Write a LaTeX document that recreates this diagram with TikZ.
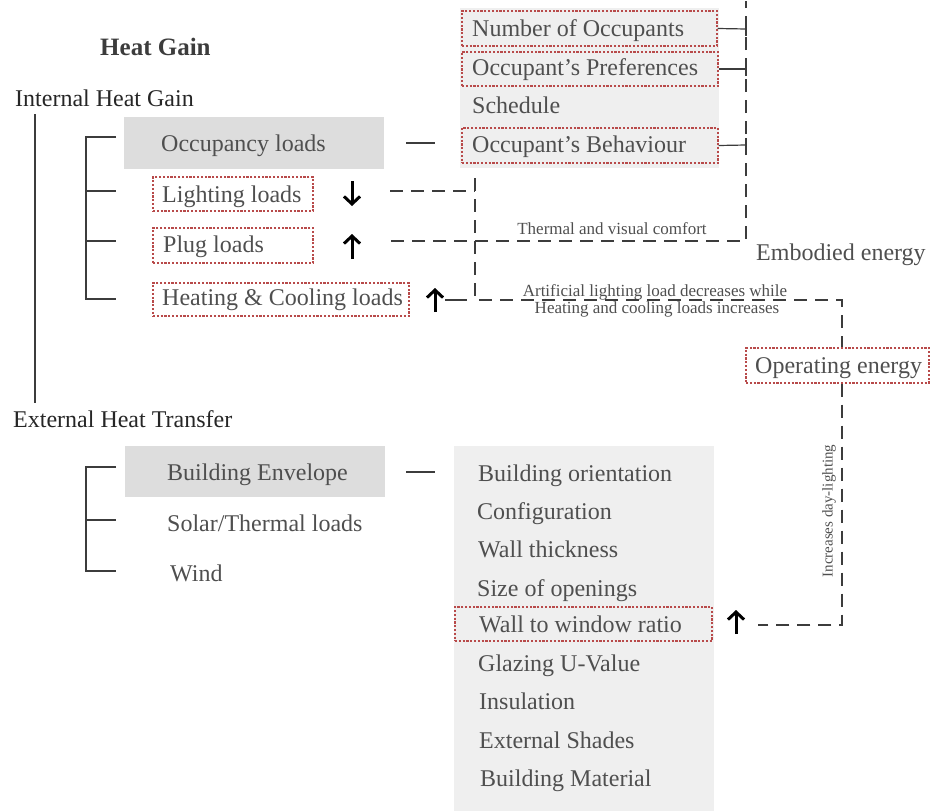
\documentclass[tikz,border=0pt]{standalone}
\usepackage{fontspec}
\setmainfont{Liberation Serif}
\usetikzlibrary{arrows.meta,fit}
\definecolor{txtdark}{HTML}{262626}
\definecolor{txtgray}{HTML}{4F4F4F}
\definecolor{boxred}{HTML}{B84A4A}
\definecolor{linegray}{HTML}{3C3C3C}
\definecolor{fillmid}{HTML}{DDDDDD}
\definecolor{filllight}{HTML}{EFEFEF}
\begin{document}
\begin{tikzpicture}[x=1pt,y=-1pt,
  lbl/.style={font=\fontsize{24}{28}\selectfont, text=txtgray, inner sep=0pt, anchor=base west},
  head/.style={font=\fontsize{24}{28}\selectfont, text=txtdark, inner sep=0pt, anchor=base west},
  small/.style={font=\fontsize{17}{19}\selectfont, text=txtgray, inner sep=0pt, anchor=base},
  redbox/.style={draw=boxred, dash pattern=on 2.2pt off 1.6pt, line width=1.3pt, inner sep=0pt},
  graybox/.style={fill=#1, draw=none, inner sep=0pt},
  dashc/.style={draw=linegray, line width=1.3pt, dash pattern=on 13pt off 8pt},
  solidc/.style={draw=linegray, line width=1.2pt},
  updown/.style={draw=black, line width=3pt, -{Straight Barb[length=7.5pt,width=16pt,line width=3pt]}}
]
\useasboundingbox (0,0) rectangle (930,811);

% ---------- background boxes ----------
\node[graybox=fillmid, fit={(124,117) (384,169)}] (occbox) {};
\node[graybox=filllight, fit={(460,8) (719,168)}] (occfactors) {};
\node[graybox=fillmid, fit={(125,446) (385,497)}] (envbox) {};
\node[graybox=filllight, fit={(454,446) (714,811)}] (envfactors) {};

% ---------- headings ----------
\node[font=\bfseries\fontsize{25}{28}\selectfont, text=txtdark!90, inner sep=0pt, anchor=base west] (hg) at (100,55) {Heat Gain};
\node[head] (ihg) at (15,106) {Internal Heat Gain};
\node[head] (eht) at (13,427) {External Heat Transfer};

% ---------- internal heat gain ----------
\node[lbl] (occ) at (161,151) {Occupancy loads};
\node[redbox, fit={(153,177) (313,211)}] (lightbox) {};
\node[lbl] (light) at (162,202) {Lighting loads};
\node[redbox, fit={(153,228) (313,263)}] (plugbox) {};
\node[lbl] (plug) at (163,252.5) {Plug loads};
\node[redbox, fit={(153,283) (409,316)}] (heatbox) {};
\node[lbl] (heat) at (162,305.5) {Heating \& Cooling loads};

% occupant factors
\node[redbox, fit={(462,11) (717,46)}] (nobox) {};
\node[lbl] (noocc) at (472,36) {Number of Occupants};
\node[redbox, fit={(462,52) (718,86)}] (prefbox) {};
\node[lbl] (pref) at (472,75) {Occupant’s Preferences};
\node[lbl] (sched) at (472,113) {Schedule};
\node[redbox, fit={(462,128) (718,163)}] (behbox) {};
\node[lbl] (beh) at (472,152) {Occupant’s Behaviour};

% ---------- external heat transfer ----------
\node[lbl] (env) at (167,480) {Building Envelope};
\node[lbl] (solar) at (167,531) {Solar/Thermal loads};
\node[lbl] (wind) at (170,581) {Wind};

\node[lbl] (e1) at (478,481) {Building orientation};
\node[lbl] (e2) at (477,519) {Configuration};
\node[lbl] (e3) at (478,557) {Wall thickness};
\node[lbl] (e4) at (477,596) {Size of openings};
\node[redbox, fit={(455,607) (712,641)}] (wwrbox) {};
\node[lbl] (e5) at (479,632) {Wall to window ratio};
\node[lbl] (e6) at (478,671) {Glazing U-Value};
\node[lbl] (e7) at (479,709) {Insulation};
\node[lbl] (e8) at (479,748) {External Shades};
\node[lbl] (e9) at (480,786) {Building Material};

% ---------- energy labels ----------
\node[lbl] (emb) at (756,260) {Embodied energy};
\node[redbox, fit={(746,348) (929,383)}] (opbox) {};
\node[lbl] (op) at (755,373) {Operating energy};

\node[small] (tvc) at (612,234) {Thermal and visual comfort};
\node[small] (alt1) at (655,296) {Artificial lighting load decreases while};
\node[small] (alt2) at (657,313) {Heating and cooling loads increases};
\node[font=\fontsize{15}{17}\selectfont, text=txtgray, inner sep=0pt, rotate=90] (idl) at (829,511) {Increases day-lighting};

% ---------- tree brackets ----------
\draw[solidc] (35,114) -- (35,403);
\draw[solidc] (116,137) -- (86,137) -- (86,299) -- (116,299);
\draw[solidc] (86,191) -- (116,191);
\draw[solidc] (86,241) -- (116,241);
\draw[solidc] (116,467) -- (86,467) -- (86,571) -- (116,571);
\draw[solidc] (86,520) -- (116,520);

\draw[solidc] (406,143) -- (435,143);
\draw[solidc] (406,472) -- (435,472);

% ---------- arrows ----------
\draw[updown] (352,181) -- (352,206);
\draw[updown] (352,259) -- (352,234);
\draw[updown] (435,312) -- (435,288);
\draw[updown] (736,634) -- (736,610);

% ---------- dashed connectors ----------
\coordinate (jL) at (475,191);
\coordinate (jB) at (475,300);
\coordinate (jR) at (842,300);
\coordinate (cT) at (746,241);

\draw[dashc] (390,191) -- (jL);
\draw[dashc] (475,178) -- (jB) -- (jR) -- (opbox.north -| jR);
\draw[solidc] (445,300) -- (467,300);
\draw[dashc] (391,241) -- (cT) -- (746,1);
\draw[dashc] (opbox.south -| jR) -- (842,625) -- (758,625);

% ticks from occupant factors
\draw[solidc] (nobox.east) -- (746,29);
\draw[solidc] (prefbox.east) -- (746,69);
\draw[solidc] (behbox.east) -- (746,145);
\draw[solidc] (746,22) -- (746,36);
\draw[solidc] (746,62) -- (746,76);
\draw[solidc] (746,138) -- (746,152);
\end{tikzpicture}
\end{document}
